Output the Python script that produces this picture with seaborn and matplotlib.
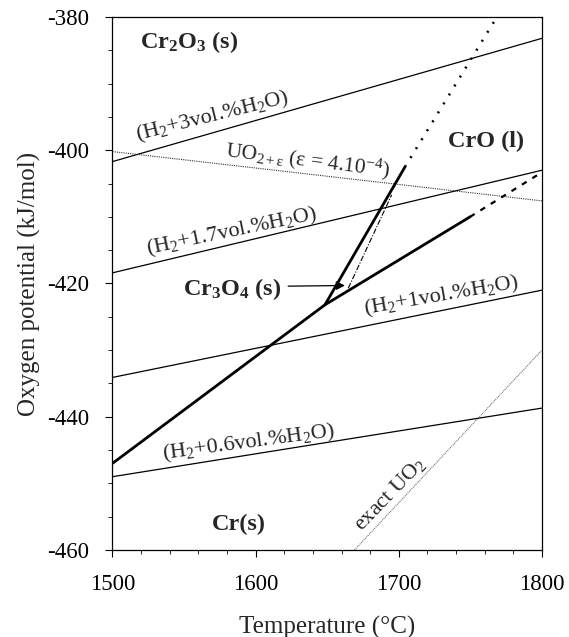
import matplotlib
matplotlib.use("Agg")
import matplotlib.pyplot as plt
from matplotlib.ticker import MultipleLocator
import numpy as np
import pandas as pd
import seaborn as sns

# Temperature range (°C) spanned by the gas-mixture lines
temp_range = [1500, 1800]

# Oxygen potential of H2/H2O mixtures (kJ/mol) at the ends of temp_range
h2o_3 = [-401.7, -383.2]
h2o_17 = [-418.4, -403.0]
h2o_1 = [-434.1, -421.0]
h2o_06 = [-449.0, -438.7]

# Urania lines
uo2_eps_temp = [1500, 1800]
uo2_eps = [-400.2, -407.6]
uo2_exact_temp = [1669, 1800]
uo2_exact = [-460.0, -430.0]

# Phase boundaries of the Cr-O system
cr_cr3o4_temp = [1500, 1648.4]
cr_cr3o4 = [-447.0, -423.2]
cr3o4_cro_temp = [1648.4, 1749.7]
cr3o4_cro = [-423.2, -410.0]
cr3o4_cro_ext_temp = [1749.7, 1800]
cr3o4_cro_ext = [-410.0, -403.3]
cr2o3_cr3o4_temp = [1648.4, 1704.3]
cr2o3_cr3o4 = [-423.2, -402.5]
cr2o3_cr3o4_ext_temp = [1704.3, 1768.5]
cr2o3_cr3o4_ext = [-402.5, -380.0]
metastable_temp = [1664.7, 1695.0]
metastable = [-420.7, -406.7]

x_ticks = [1500, 1600, 1700, 1800]
y_ticks = [-460, -440, -420, -400, -380]

sns.set_style("ticks")
plt.rcParams["font.family"] = ["Liberation Serif", "DejaVu Serif"]
plt.rcParams["mathtext.fontset"] = "custom"
plt.rcParams["mathtext.rm"] = "Liberation Serif"
plt.rcParams["mathtext.it"] = "Liberation Serif:italic"
plt.rcParams["mathtext.bf"] = "Liberation Serif:bold"
plt.rcParams["axes.unicode_minus"] = False

fig = plt.figure(figsize=(5.69, 6.37), dpi=100)
ax = fig.add_axes([0.1977, 0.1366, 0.7548, 0.8367])


def draw(xs, ys, **kw):
    df = pd.DataFrame({"T": xs, "mu": ys})
    sns.lineplot(data=df, x="T", y="mu", ax=ax, sort=False, estimator=None,
                 color=kw.pop("color", "black"), **kw)


# gas mixtures
for vals in (h2o_3, h2o_17, h2o_1, h2o_06):
    draw(temp_range, vals, linewidth=0.9)

# urania
draw(uo2_eps_temp, uo2_eps, linewidth=0.8, linestyle=(0, (1, 1)), color="#333333")
draw(uo2_exact_temp, uo2_exact, linewidth=0.7, linestyle=(0, (1, 1)), color="#555555")

# Cr-O boundaries
draw(cr_cr3o4_temp, cr_cr3o4, linewidth=2.0)
draw(cr3o4_cro_temp, cr3o4_cro, linewidth=2.0)
draw(cr2o3_cr3o4_temp, cr2o3_cr3o4, linewidth=2.0)
draw(cr3o4_cro_ext_temp, cr3o4_cro_ext, linewidth=1.6, linestyle=(0, (2.5, 3.0)))
draw(cr2o3_cr3o4_ext_temp, cr2o3_cr3o4_ext, linewidth=1.8, linestyle=(0, (0.8, 3.4)))
draw(metastable_temp, metastable, linewidth=0.8, linestyle=(0, (5, 1.5, 1, 1.5)))

ax.set_xlim(1500, 1800)
ax.set_ylim(-460, -380)
ax.set_xticks(x_ticks)
ax.set_yticks(y_ticks)
ax.xaxis.set_minor_locator(MultipleLocator(20))
ax.yaxis.set_minor_locator(MultipleLocator(5))
ax.tick_params(which="major", direction="out", length=5, width=0.8,
               labelsize=16.5, colors="black")
ax.tick_params(which="minor", direction="out", length=3, width=0.7)
ax.tick_params(axis="x", which="major", pad=12)
ax.tick_params(axis="y", which="major", pad=12)
for s in ax.spines.values():
    s.set_visible(True)
    s.set_linewidth(0.9)
    s.set_color("black")

ax.set_xlabel("Temperature (°C)", fontsize=18, labelpad=15)
ax.set_ylabel("Oxygen potential (kJ/mol)", fontsize=18, labelpad=4)

# gas labels
lab = dict(fontsize=16, rotation_mode="anchor", ha="left", va="baseline")
ax.text(1517.1, -398.6, "(H$_2$+3vol.%H$_2$O)", rotation=14, **lab)
ax.text(1524.8, -415.7, "(H$_2$+1.7vol.%H$_2$O)", rotation=11.7, **lab)
ax.text(1676.4, -424.7, "(H$_2$+1vol.%H$_2$O)", rotation=9.8, **lab)
ax.text(1535.5, -446.4, "(H$_2$+0.6vol.%H$_2$O)", rotation=7.6, **lab)
ax.text(1578.6, -400.9, r"UO$_{\mathrm{2+ε}}$ (ε = 4.10$^{-4}$)", rotation=-7,
        **{**lab, "fontsize": 15.5})
ax.text(1674.0, -457.3, "exact UO$_2$", rotation=46, **lab)

# phase fields
ph = dict(fontsize=17.5, fontweight="bold", ha="left", va="baseline")
ax.text(1519.2, -384.7, r"Cr$_\mathbf{2}$O$_\mathbf{3}$ (s)", **ph)
ax.text(1734.3, -399.5, "CrO (l)", **ph)
ax.text(1549.0, -421.7, r"Cr$_\mathbf{3}$O$_\mathbf{4}$ (s)", **ph)
ax.text(1569.3, -457.0, "Cr(s)", **ph)

ax.annotate("", xy=(1662.4, -420.3), xytext=(1622.7, -420.4),
            arrowprops=dict(arrowstyle="-|>", color="black", lw=0.9,
                            mutation_scale=13, shrinkA=0, shrinkB=0))

fig.savefig("out.png", dpi=100)
